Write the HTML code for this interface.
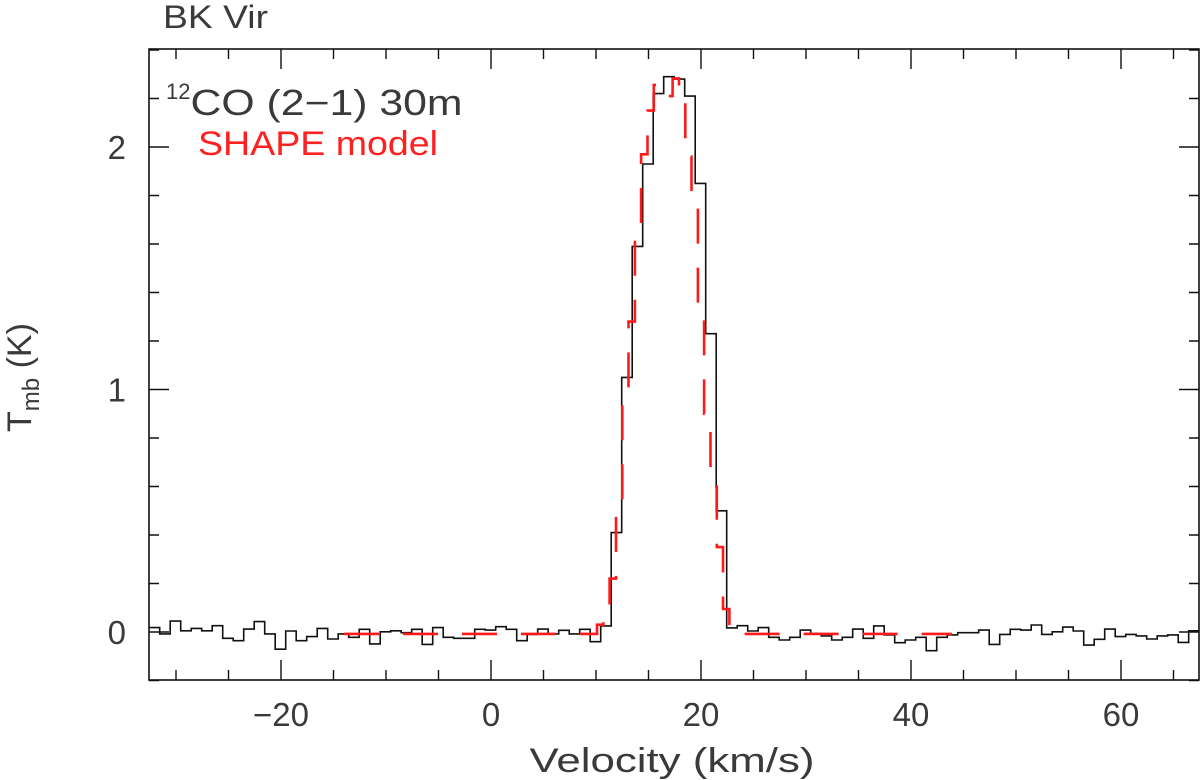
<!DOCTYPE html>
<html><head><meta charset="utf-8"><style>
html,body{margin:0;padding:0;background:#fff}
svg{display:block}
text{font-family:"Liberation Sans",sans-serif;fill:#3a3a3a}
</style></head><body>
<svg id="chart" width="1200" height="780" viewBox="0 0 1200 780" xmlns="http://www.w3.org/2000/svg">
<defs><clipPath id="frameClip"><rect x="149" y="49" width="1050" height="631"/></clipPath></defs>
<text x="163" y="28" font-size="32" textLength="105" lengthAdjust="spacingAndGlyphs">BK Vir</text>
<text x="166" y="115" font-size="36"><tspan font-size="22" dy="-16">12</tspan><tspan dy="16" textLength="272" lengthAdjust="spacingAndGlyphs">CO (2−1) 30m</tspan></text>
<text x="198" y="155" font-size="34" style="fill:#ff2020" textLength="240" lengthAdjust="spacingAndGlyphs">SHAPE model</text>
<g transform="translate(31,432) rotate(-90)">
<text x="0" y="0" font-size="34">T<tspan font-size="24" dy="8">mb</tspan><tspan dy="-8"> (K)</tspan></text>
</g>
<text x="672" y="772" font-size="34" text-anchor="middle" textLength="285" lengthAdjust="spacingAndGlyphs">Velocity (km/s)</text>
<g id="ticks"></g>
<g id="labels"></g>
<g clip-path="url(#frameClip)">
<path id="obs" fill="none" stroke="#111" stroke-width="1.6"/>
<path id="model" fill="none" stroke="#ff1a1a" stroke-width="2.6" stroke-dasharray="35 24"/>
</g>
<rect x="149" y="49" width="1050" height="631" fill="none" stroke="#111" stroke-width="1.6"/>
</svg>
<script>
const chanStart = -32.55;
const chanWidth = 1.0;
const obsT = [0.018,-0.008,0.045,0.005,0.015,0.005,0.026,-0.026,-0.036,0.012,0.043,-0.008,-0.071,0.004,-0.036,-0.019,0.015,-0.029,-0.008,-0.022,0.011,
-0.049,0.001,0.005,-0.003,0.011,-0.051,0.018,-0.022,-0.026,-0.026,0.011,0.008,0.022,0.011,-0.036,-0.010,0.012,-0.008,0.007,-0.008,0.011,
-0.04,0.025,0.41,1.05,1.59,1.93,2.22,2.29,2.28,2.21,1.85,1.23,0.50,0.017,
0.026,0.004,0.018,-0.022,-0.033,-0.022,0.008,-0.006,-0.016,-0.033,-0.022,0.012,-0.026,0.025,-0.012,-0.044,-0.033,-0.022,-0.077,-0.022,-0.012,-0.003,
-0.003,0.008,-0.051,-0.010,0.011,0.008,0.029,-0.010,0.001,0.020,0.004,-0.054,-0.030,0.012,-0.019,-0.010,-0.016,-0.029,-0.016,-0.012,-0.043,0.005];
const modelV = [-14.0,10.1,10.7,11.3,11.9,12.5,13.1,13.7,14.3,14.9,15.5,16.1,16.7,17.3,17.9,18.5,19.1,19.7,20.3,20.9,21.5,22.1,22.7,23.3,43.9];
const modelT = [-0.008,0.03,0.08,0.22,0.5,0.93,1.28,1.66,1.97,2.15,2.256,2.235,2.21,2.283,2.19,1.96,1.75,1.29,0.90,0.6,0.35,0.095,0.02,-0.008];
const xMajor = [-20,0,20,40,60];
const xMinor = [-30,-25,-15,-10,-5,5,10,15,25,30,35,45,50,55,65];
const yMajor = [0,1,2];
const yMinor = [-0.2,0.2,0.4,0.6,0.8,1.2,1.4,1.6,1.8,2.2,2.4];
const xTickLabels = ["−20","0","20","40","60"];
const yTickLabels = ["0","1","2"];

const X = v => 491 + 10.5 * v;
const Y = t => 632 - 242.5 * t;
const L = 149, R = 1199, T = 49, B = 680;
const NS = "http://www.w3.org/2000/svg";

let d = "";
obsT.forEach((t, i) => {
  const x0 = X(chanStart + i * chanWidth), x1 = X(chanStart + (i + 1) * chanWidth);
  d += (i === 0 ? "M" : "L") + x0.toFixed(1) + "," + Y(t).toFixed(1) + "L" + x1.toFixed(1) + "," + Y(t).toFixed(1);
});
document.getElementById("obs").setAttribute("d", d);

let m = "";
modelT.forEach((t, i) => {
  m += (i === 0 ? "M" : "L") + X(modelV[i]).toFixed(1) + "," + Y(t).toFixed(1) + "L" + X(modelV[i + 1]).toFixed(1) + "," + Y(t).toFixed(1);
});
document.getElementById("model").setAttribute("d", m);

const tg = document.getElementById("ticks");
let td = "";
xMajor.forEach(v => { const x = X(v); td += `M${x},${B}V${B-20}M${x},${T}V${T+20}`; });
xMinor.forEach(v => { const x = X(v); td += `M${x},${B}V${B-10}M${x},${T}V${T+10}`; });
yMajor.forEach(t => { const y = Y(t); td += `M${L},${y}H${L+20}M${R},${y}H${R-20}`; });
yMinor.forEach(t => { const y = Y(t); td += `M${L},${y}H${L+10}M${R},${y}H${R-10}`; });
const tp = document.createElementNS(NS, "path");


tp.setAttribute("d", td); tp.setAttribute("stroke", "#111"); tp.setAttribute("stroke-width", "1.4"); tp.setAttribute("fill", "none");
tg.appendChild(tp);

const lg = document.getElementById("labels");
xMajor.forEach((v, i) => {
  const e = document.createElementNS(NS, "text");
  
  
  e.setAttribute("x", X(v)); e.setAttribute("y", 726); e.setAttribute("font-size", "33");
  e.setAttribute("text-anchor", "middle"); e.textContent = xTickLabels[i];
  lg.appendChild(e);
});
yMajor.forEach((t, i) => {
  const e = document.createElementNS(NS, "text");
  
  
  e.setAttribute("x", 126); e.setAttribute("y", Y(t) + 12); e.setAttribute("font-size", "33");
  e.setAttribute("text-anchor", "end"); e.textContent = yTickLabels[i];
  lg.appendChild(e);
});
</script>
</body></html>
